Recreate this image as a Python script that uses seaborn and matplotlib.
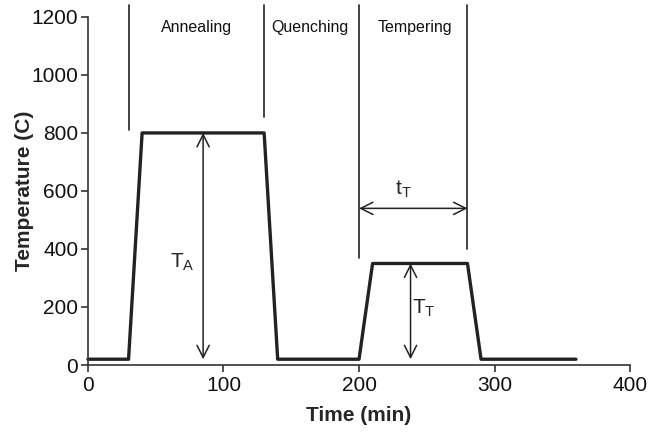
import matplotlib
matplotlib.use("Agg")
import matplotlib.pyplot as plt
import seaborn as sns
import pandas as pd

# Data
time_min = [0, 30, 40, 130, 140, 200, 210, 280, 290, 360]
temp_c = [20, 20, 800, 800, 20, 20, 350, 350, 20, 20]
phase_names = ["Annealing", "Quenching", "Tempering"]
phase_label_x = [80, 164, 241]
phase_bounds_x = [30, 130, 200, 280]
phase_bounds_ybottom = [810, 855, 370, 400]
x_ticks = [0, 100, 200, 300, 400]
y_ticks = [0, 200, 400, 600, 800, 1000, 1200]

sns.set_theme(style="ticks")
plt.rcParams['font.family'] = ['Liberation Sans', 'DejaVu Sans']

fig = plt.figure(figsize=(6.51, 4.33), dpi=100)
ax = fig.add_axes([0.135, 0.157, 0.833, 0.804])

df = pd.DataFrame({"Time": time_min, "Temp": temp_c})
sns.lineplot(data=df, x="Time", y="Temp", sort=False, color="#222222", lw=2.4, ax=ax, clip_on=False)

ax.set_xlim(0, 400)
ax.set_ylim(0, 1200)
ax.set_xticks(x_ticks)
ax.set_yticks(y_ticks)
ax.tick_params(axis="both", labelsize=15, length=5, width=1.2, color="#333333", labelcolor="#111111", pad=2)
ax.tick_params(axis="x", pad=3)
for s in ["top", "right"]:
    ax.spines[s].set_visible(False)
for s in ["left", "bottom"]:
    ax.spines[s].set_linewidth(1.2)
    ax.spines[s].set_color("#333333")

ax.set_xlabel("Time (min)", fontsize=15, fontweight="bold", labelpad=8)
ax.set_ylabel("Temperature (C)", fontsize=15, fontweight="bold", labelpad=-2)

# Phase boundaries
for xb, yb in zip(phase_bounds_x, phase_bounds_ybottom):
    ax.plot([xb, xb], [yb, 1240], color="#222222", lw=1.2, clip_on=False)
for name, xl in zip(phase_names, phase_label_x):
    ax.text(xl, 1165, name, ha="center", va="center", fontsize=11.5, color="#111111")

arrow_kw = dict(arrowstyle="<->", color="#222222", lw=1.1, mutation_scale=22,
                shrinkA=0, shrinkB=0)
# T_A arrow
ax.annotate("", xy=(85, 20), xytext=(85, 800), arrowprops=arrow_kw)
ax.text(70, 355, r"T$_\mathregular{A}$", fontsize=15, ha="center", va="center")
# T_T arrow
ax.annotate("", xy=(238, 20), xytext=(238, 350), arrowprops=arrow_kw)
ax.text(248, 195, r"T$_\mathregular{T}$", fontsize=15, ha="center", va="center")
# t_T arrow
ax.annotate("", xy=(200, 540), xytext=(280, 540), arrowprops=arrow_kw)
ax.text(233, 605, r"t$_\mathregular{T}$", fontsize=15, ha="center", va="center")

fig.savefig("out.png", dpi=100)
